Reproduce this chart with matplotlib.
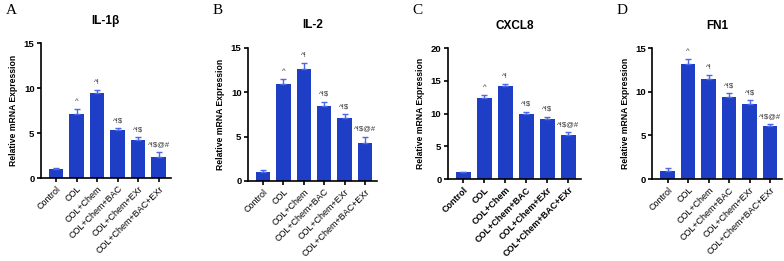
import matplotlib.pyplot as plt

# groups shown on every panel
groups = ["Control", "COL", "COL+Chem", "COL+Chem+BAC", "COL+Chem+EXr", "COL+Chem+BAC+EXr"]
marks = ["", "^", "^!", "^!$", "^!$", "^!$@#"]

# IL-1b
il1b_mean = [1.0, 7.1, 9.4, 5.3, 4.2, 2.3]
il1b_err = [0.1, 0.6, 0.4, 0.25, 0.35, 0.55]
# IL-2
il2_mean = [1.0, 10.9, 12.6, 8.4, 7.1, 4.3]
il2_err = [0.25, 0.6, 0.7, 0.5, 0.4, 0.7]
# CXCL8
cxcl8_mean = [1.0, 12.3, 14.2, 10.0, 9.2, 6.7]
cxcl8_err = [0.1, 0.6, 0.3, 0.3, 0.3, 0.45]
# FN1
fn1_mean = [0.95, 13.2, 11.4, 9.4, 8.6, 6.1]
fn1_err = [0.35, 0.6, 0.5, 0.4, 0.45, 0.15]

panels = [
    ("A", "IL-1\u03b2", il1b_mean, il1b_err, 15, [0.052, 0.318, 0.166, 0.517], False),
    ("B", "IL-2", il2_mean, il2_err, 15, [0.316, 0.307, 0.165, 0.510], False),
    ("C", "CXCL8", cxcl8_mean, cxcl8_err, 20, [0.571, 0.314, 0.170, 0.502], True),
    ("D", "FN1", fn1_mean, fn1_err, 15, [0.832, 0.314, 0.166, 0.502], False),
]

bar_color = "#1F3EC6"
err_color = "#4A68E8"

fig = plt.figure(figsize=(7.84, 2.61), dpi=100)
plt.rcParams["font.family"] = ["Liberation Sans", "DejaVu Sans"]

for letter, title, mean, err, ymax, pos, bold_x in panels:
    ax = fig.add_axes(pos)
    x = list(range(len(groups)))
    ax.bar(x, mean, width=0.7, color=bar_color, zorder=2)
    ax.errorbar(x, mean, yerr=[[0] * len(err), err], fmt="none",
                ecolor=err_color, elinewidth=1.0, capsize=2.5, capthick=1.0, zorder=3)
    for xi, m, e, t in zip(x, mean, err, marks):
        if t:
            ax.text(xi, m + e + ymax * 0.03, t, ha="center", va="bottom",
                    fontsize=5.5, color="#333333")
    ax.set_xlim(-0.75, 5.6)
    ax.set_ylim(0, ymax)
    ax.set_yticks(range(0, ymax + 1, 5))
    ax.set_xticks(x)
    ax.set_xticklabels(groups, rotation=45, ha="right", rotation_mode="anchor",
                       fontsize=6.5, fontweight="bold" if bold_x else "normal")
    for lbl in ax.get_yticklabels():
        lbl.set_fontsize(6.8)
        lbl.set_fontweight("bold")
    ax.spines["top"].set_visible(False)
    ax.spines["right"].set_visible(False)
    ax.spines["left"].set_linewidth(1.2)
    ax.spines["bottom"].set_linewidth(1.2)
    ax.tick_params(axis="both", length=3, width=1.2, pad=1.5)
    ax.set_ylabel("Relative mRNA Expression", fontsize=6.2, fontweight="bold", labelpad=4)
    ax.set_title(title, fontsize=8.5, fontweight="bold", pad=14)
    fig.text(pos[0] - 0.045, 0.935, letter, fontsize=11, family="Liberation Serif",
             va="bottom", ha="left")

plt.savefig("out.png", dpi=100)
